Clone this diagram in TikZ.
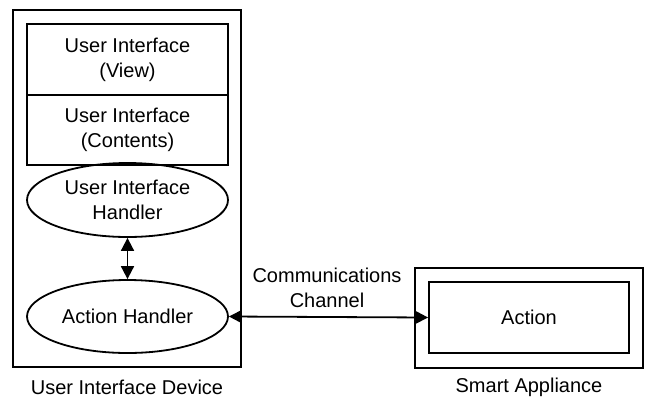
\documentclass[tikz,border=0pt]{standalone}
\usepackage{fontspec}
\setmainfont{Liberation Sans}
\usetikzlibrary{shapes.geometric,arrows.meta}
\begin{document}
\begin{tikzpicture}[x=0.5pt,y=-0.5pt,line width=0.9pt,
  font=\fontsize{10}{12.5}\selectfont,
  box/.style={draw,rectangle,inner sep=0pt,align=center},
  oval/.style={draw,ellipse,inner sep=0pt,align=center,minimum width=100.5pt},
  lbl/.style={inner sep=0pt,align=center},
  link/.style={{Triangle[length=6.5pt,width=6.5pt]}-{Triangle[length=6.5pt,width=6.5pt]}}]
\useasboundingbox (0,0) rectangle (646,396);

% User interface device
\node[box,minimum width=114pt,minimum height=178.5pt] (device) at (127,188.5) {};
\node[box,minimum width=100.5pt,minimum height=35.5pt] (view) at (127.5,59.5) {User Interface\\(View)};
\node[box,minimum width=100.5pt,minimum height=35pt] (contents) at (127.5,130) {User Interface\\(Contents)};
\node[oval,minimum height=37pt] (uih) at (127.5,200) {User Interface\\Handler};
\node[oval,minimum height=36.5pt] (ah) at (127.5,316.5) {Action Handler};
\node[lbl] (devlabel) at (127,387) {User Interface Device};

% Smart appliance
\node[box,minimum width=114pt,minimum height=50pt] (appliance) at (529,318) {};
\node[box,minimum width=100pt,minimum height=35.5pt] (action) at (529,317.5) {Action};
\node[lbl] (applabel) at (529,387) {Smart Appliance};

% Connectors
\draw[link] (uih.south) -- (ah.north);
\draw[link] (ah.east) -- (action.west);
\node[lbl] (chan) at (327,287.5) {Communications\\Channel};
\end{tikzpicture}
\end{document}
